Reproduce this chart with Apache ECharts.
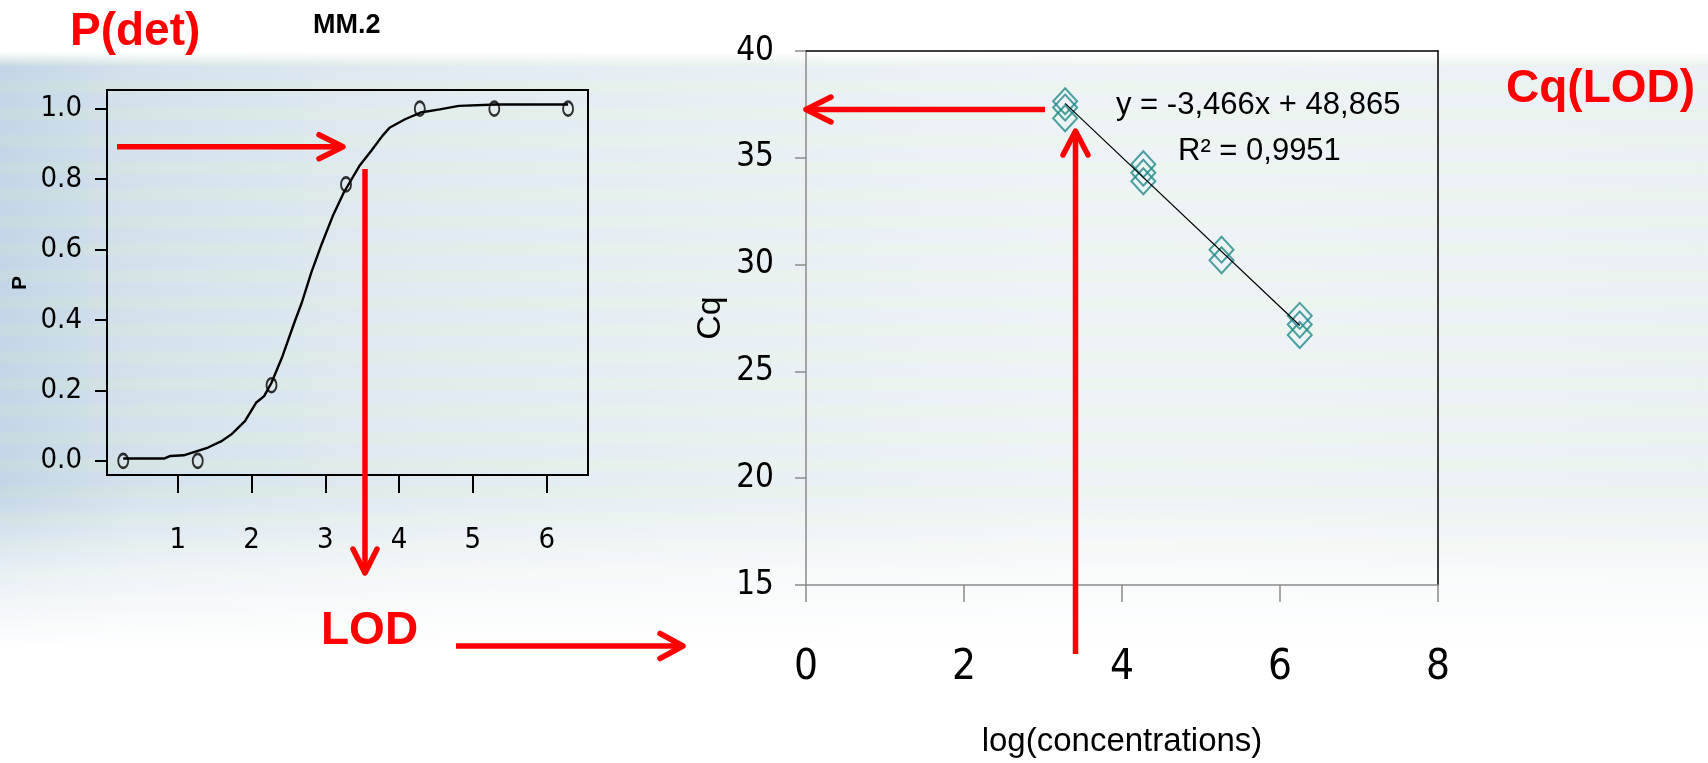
<!DOCTYPE html>
<html>
<head>
<meta charset="utf-8">
<script src="https://cdn.jsdelivr.net/npm/echarts@6/dist/echarts.min.js"></script>
<style>
  html, body { margin: 0; padding: 0; }
  body {
    width: 1708px; height: 763px; overflow: hidden;
    background:
      linear-gradient(to bottom, #ffffff 0px, #ffffff 52px, rgba(255,255,255,0) 66px, rgba(255,255,255,0) 490px, rgba(255,255,255,0.6) 570px, #ffffff 650px),
      repeating-linear-gradient(to bottom, rgba(200,228,200,0.22) 0px, rgba(200,228,200,0.22) 12px, rgba(190,210,232,0.18) 12px, rgba(190,210,232,0.18) 27px),
      linear-gradient(to right, #c4d6e6 0%, #d9e5ee 8%, #e9f0f4 25%, #f2f6f8 45%, #f8fafb 65%, #f4f7f8 100%);
  }
  #chart { width: 1708px; height: 763px; }
</style>
</head>
<body>
<div id="chart"></div>
<script>
// ---- Left panel: detection probability (MM.2) ----
const leftXTicks = [1, 2, 3, 4, 5, 6];
const leftYTicks = [0, 0.2, 0.4, 0.6, 0.8, 1.0];
const obsX = [0.26, 1.27, 2.27, 3.28, 4.28, 5.29, 6.29];
const obsP = [0, 0, 0.215, 0.785, 1.0, 1.0, 1.0];
const curveX = [0.26, 0.82, 0.9, 1.08, 1.26, 1.41, 1.6, 1.73, 1.91, 2.06, 2.17, 2.27, 2.42, 2.58, 2.68, 2.81, 2.94, 3.10, 3.25, 3.46, 3.62, 3.77, 3.87, 4.08, 4.29, 4.55, 4.81, 5.32, 6.29];
const curveP = [0.007, 0.007, 0.014, 0.016, 0.028, 0.038, 0.057, 0.076, 0.113, 0.165, 0.184, 0.222, 0.298, 0.393, 0.449, 0.535, 0.61, 0.695, 0.762, 0.837, 0.88, 0.922, 0.946, 0.97, 0.989, 0.998, 1.008, 1.012, 1.012];

// ---- Right panel: Cq vs log(concentrations) ----
const cqX = [3.28, 3.28, 3.28, 4.27, 4.27, 4.27, 5.26, 5.26, 6.25, 6.25, 6.25];
const cqY = [37.65, 37.35, 36.85, 34.7, 34.3, 33.9, 30.7, 30.2, 27.6, 27.2, 26.7];
const trendX = [3.28, 6.25];
const trendY = [37.55, 27.15];
const rightXTicks = [0, 2, 4, 6, 8];
const rightYTicks = [15, 20, 25, 30, 35, 40];

const NARROW = "'Liberation Sans Narrow', 'DejaVu Sans Condensed', sans-serif";
const SANS = "'Liberation Sans', Arial, sans-serif";
const RED = '#ff0000';

function zip(a, b) { return a.map((v, i) => [v, b[i]]); }

function arrow(x1, y1, x2, y2, head, half) {
  const dx = x2 - x1, dy = y2 - y1, len = Math.hypot(dx, dy);
  const ux = dx / len, uy = dy / len;
  const bx = x2 - ux * head, by = y2 - uy * head;
  const px = -uy * half, py = ux * half;
  const st = { stroke: RED, lineWidth: 5.5, lineCap: 'round', lineJoin: 'round', fill: null };
  return [
    { type: 'line', shape: { x1: x1, y1: y1, x2: x2, y2: y2 }, style: Object.assign({}, st, { lineCap: 'butt' }), z: 100 },
    { type: 'polyline', shape: { points: [[bx + px, by + py], [x2, y2], [bx - px, by - py]] }, style: st, z: 100 }
  ];
}

const chart = echarts.init(document.getElementById('chart'), null, { renderer: 'canvas' });

const option = {
  backgroundColor: 'transparent',
  animation: false,
  grid: [
    { left: 107, top: 90, width: 481, height: 385, show: true, borderColor: '#000', borderWidth: 2, backgroundColor: 'transparent', containLabel: false },
    { left: 806, top: 51, width: 632, height: 540, show: false, containLabel: false }
  ],
  xAxis: [
    {
      type: 'value', gridIndex: 0, min: 0.04, max: 6.56,
      axisLine: { show: true, onZero: false, lineStyle: { color: '#000', width: 2 } },
      axisTick: { show: true, length: 18, customValues: leftXTicks, lineStyle: { color: '#000', width: 2 } },
      axisLabel: { show: true, customValues: leftXTicks, margin: 51, fontSize: 29, fontFamily: NARROW, color: '#000' },
      splitLine: { show: false }
    },
    {
      type: 'value', gridIndex: 1, min: 0, max: 8, interval: 2,
      axisLine: { show: true, onZero: false, lineStyle: { color: '#8a8a8a', width: 1.5 } },
      axisTick: { show: true, length: 17, lineStyle: { color: '#8a8a8a', width: 1.5 } },
      axisLabel: { show: true, margin: 62, fontSize: 42, fontFamily: NARROW, color: '#000' },
      splitLine: { show: false },
      name: 'log(concentrations)', nameLocation: 'middle', nameGap: 140,
      nameTextStyle: { fontSize: 33, fontFamily: SANS, color: '#000' }
    },
    {
      type: 'value', gridIndex: 1, min: 0, max: 8, position: 'top',
      axisLine: { show: true, onZero: false, lineStyle: { color: '#000', width: 1.5 } },
      axisTick: { show: false }, axisLabel: { show: false }, splitLine: { show: false }
    }
  ],
  yAxis: [
    {
      type: 'value', gridIndex: 0, min: -0.04, max: 1.053,
      axisLine: { show: true, onZero: false, lineStyle: { color: '#000', width: 2 } },
      axisTick: { show: true, length: 12, customValues: leftYTicks, lineStyle: { color: '#000', width: 2 } },
      axisLabel: { show: true, customValues: leftYTicks, margin: 25, fontSize: 29, fontFamily: NARROW, color: '#000',
        padding: [10, 0, 0, 0],
        formatter: function (v) { return Number(v).toFixed(1); } },
      splitLine: { show: false }
    },
    {
      type: 'value', gridIndex: 1, min: 15, max: 40, interval: 5,
      axisLine: { show: true, onZero: false, lineStyle: { color: '#8a8a8a', width: 1.5 } },
      axisTick: { show: true, length: 11, lineStyle: { color: '#8a8a8a', width: 1.5 } },
      axisLabel: { show: true, margin: 32, fontSize: 33, fontFamily: NARROW, color: '#000' },
      splitLine: { show: false },
      name: 'Cq', nameLocation: 'middle', nameGap: 78, nameRotate: 90,
      nameTextStyle: { fontSize: 34, fontFamily: SANS, color: '#000' }
    },
    {
      type: 'value', gridIndex: 1, min: 15, max: 40, position: 'right',
      axisLine: { show: true, onZero: false, lineStyle: { color: '#000', width: 1.5 } },
      axisTick: { show: false }, axisLabel: { show: false }, splitLine: { show: false }
    }
  ],
  series: [
    {
      name: 'fit', type: 'line', xAxisIndex: 0, yAxisIndex: 0,
      data: zip(curveX, curveP), showSymbol: false, symbol: 'none', smooth: false,
      lineStyle: { color: '#000', width: 2.4 }, z: 3
    },
    {
      name: 'observed', type: 'scatter', xAxisIndex: 0, yAxisIndex: 0,
      data: zip(obsX, obsP), symbol: 'circle', symbolSize: [10, 14],
      itemStyle: { color: 'rgba(0,0,0,0)', borderColor: '#000', borderWidth: 2.2 }, z: 4
    },
    {
      name: 'Cq', type: 'scatter', xAxisIndex: 1, yAxisIndex: 1,
      data: zip(cqX, cqY), symbol: 'diamond', symbolSize: [24, 26],
      itemStyle: { color: 'rgba(0,0,0,0)', borderColor: '#1f8a8a', borderWidth: 2 }, z: 4
    },
    {
      name: 'trend', type: 'line', xAxisIndex: 1, yAxisIndex: 1,
      data: zip(trendX, trendY), showSymbol: false, symbol: 'none',
      lineStyle: { color: '#000', width: 1.2 }, z: 5
    }
  ],
  graphic: [
    { type: 'text', x: 20, y: 283, rotation: Math.PI / 2, style: { text: 'P', font: 'bold 21px ' + SANS, fill: '#000', align: 'center', verticalAlign: 'middle' }, z: 100 },
    { type: 'text', x: 70, y: 32, style: { text: 'P(det)', font: 'bold 46px ' + SANS, fill: RED, align: 'left', verticalAlign: 'middle' }, z: 100 },
    { type: 'text', x: 313, y: 26, style: { text: 'MM.2', font: 'bold 27px ' + SANS, fill: '#000', align: 'left', verticalAlign: 'middle' }, z: 100 },
    { type: 'text', x: 321, y: 631, style: { text: 'LOD', font: 'bold 46px ' + SANS, fill: RED, align: 'left', verticalAlign: 'middle' }, z: 100 },
    { type: 'text', x: 1506, y: 89, style: { text: 'Cq(LOD)', font: 'bold 46px ' + SANS, fill: RED, align: 'left', verticalAlign: 'middle' }, z: 100 },
    { type: 'text', x: 1116, y: 105, style: { text: 'y = -3,466x + 48,865', font: '31px ' + SANS, fill: '#000', align: 'left', verticalAlign: 'middle' }, z: 100 },
    { type: 'text', x: 1178, y: 151, style: { text: 'R² = 0,9951', font: '31px ' + SANS, fill: '#000', align: 'left', verticalAlign: 'middle' }, z: 100 }
  ].concat(
    arrow(117, 146.7, 343, 146.7, 24, 12),
    arrow(365, 169, 365, 573, 24, 12),
    arrow(456, 646, 683, 646, 23, 12.5),
    arrow(1045, 109.5, 806, 109.5, 25, 12.5),
    arrow(1075.5, 654, 1075.5, 131, 24, 12.5)
  )
};

chart.setOption(option);
</script>
</body>
</html>
